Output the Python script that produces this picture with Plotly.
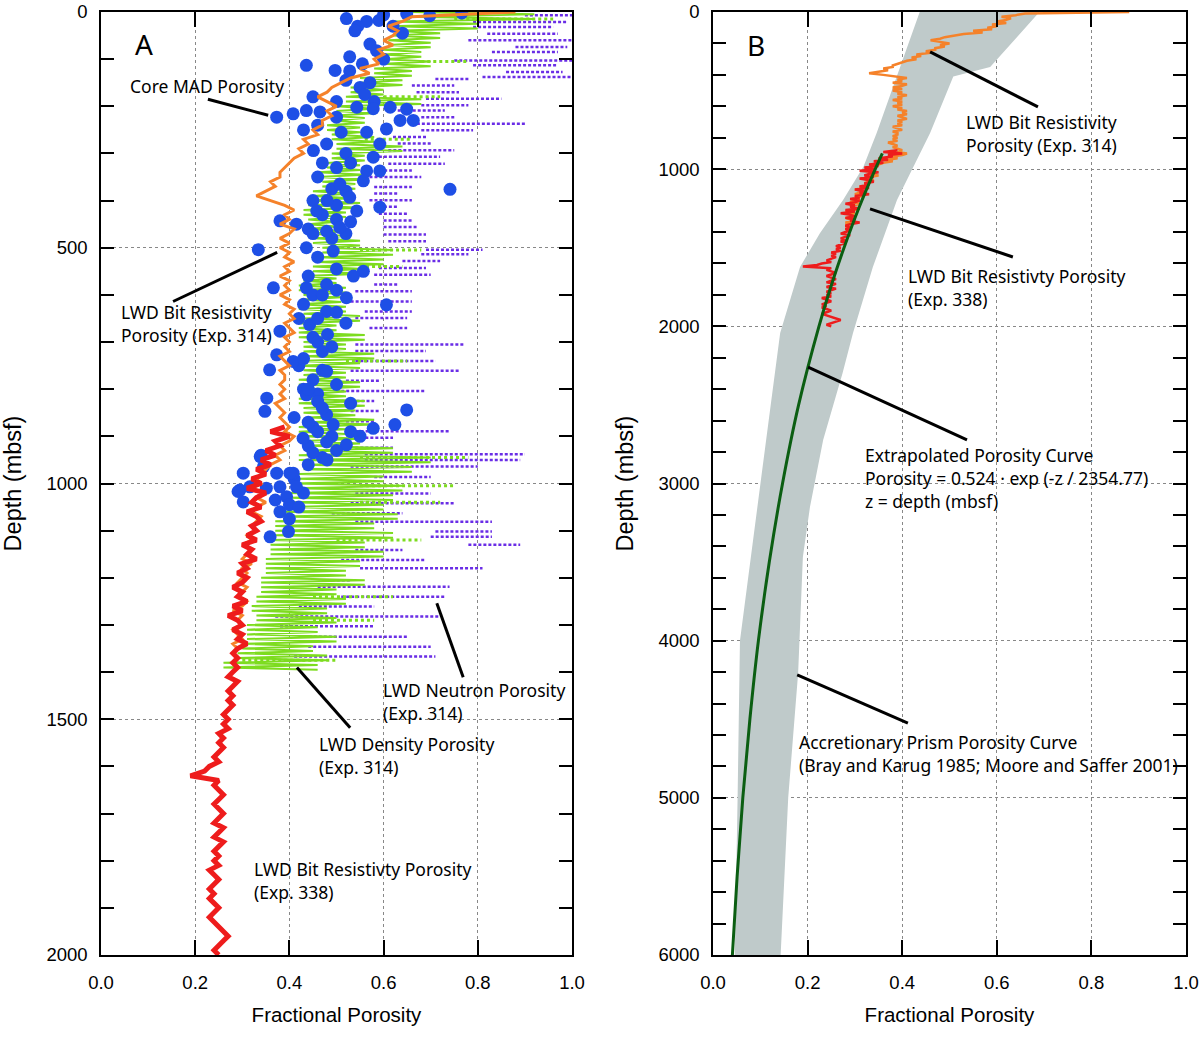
import plotly.graph_objects as go

# ---------------- data ----------------
# LWD bit resistivity porosity, Exp. 314 (10 m steps from 0 m)
res314_depth = list(range(0, 1390, 10))
res314_por = [
    0.88, 0.66, 0.64, 0.61, 0.63, 0.62, 0.60, 0.62, 0.59, 0.60,
    0.58, 0.59, 0.55, 0.57, 0.53, 0.51, 0.49, 0.48, 0.46, 0.48,
    0.50, 0.48, 0.49, 0.47, 0.47, 0.45, 0.46, 0.43, 0.44, 0.42,
    0.43, 0.41, 0.40, 0.39, 0.38, 0.38, 0.36, 0.37, 0.35, 0.33,
    0.36, 0.39, 0.41, 0.39, 0.40, 0.38, 0.41, 0.40, 0.38, 0.40,
    0.38, 0.40, 0.39, 0.41, 0.39, 0.40, 0.38, 0.40, 0.39, 0.40,
    0.38, 0.40, 0.39, 0.41, 0.40, 0.41, 0.39, 0.40, 0.41, 0.39,
    0.40, 0.39, 0.40, 0.38, 0.39, 0.40, 0.38, 0.39, 0.39, 0.38,
    0.39, 0.38, 0.39, 0.37, 0.38, 0.39, 0.38, 0.39, 0.40, 0.39,
    0.41, 0.40, 0.38, 0.39, 0.37, 0.38, 0.36, 0.35, 0.34, 0.33,
    0.34, 0.32, 0.34, 0.33, 0.35, 0.33, 0.32, 0.34, 0.33, 0.32,
    0.33, 0.31, 0.32, 0.30, 0.32, 0.31, 0.30, 0.32, 0.30, 0.31,
    0.30, 0.29, 0.31, 0.30, 0.29, 0.31, 0.30, 0.28, 0.30, 0.29,
    0.30, 0.28, 0.29, 0.30, 0.28, 0.29, 0.28, 0.29, 0.28,
]

# LWD bit resistivity porosity, Exp. 338 (10 m steps from 880 m)
res338_depth = list(range(880, 2010, 10))
res338_por = [
    0.39, 0.36, 0.40, 0.37, 0.38, 0.35, 0.37, 0.34, 0.36, 0.33,
    0.35, 0.32, 0.34, 0.31, 0.35, 0.33, 0.32, 0.34, 0.31, 0.33,
    0.34, 0.32, 0.33, 0.31, 0.33, 0.30, 0.32, 0.31, 0.33, 0.30,
    0.31, 0.29, 0.31, 0.30, 0.28, 0.30, 0.29, 0.31, 0.28, 0.30,
    0.27, 0.29, 0.30, 0.28, 0.30, 0.29, 0.31, 0.29, 0.28, 0.29,
    0.28, 0.29, 0.28, 0.27, 0.29, 0.28, 0.27, 0.28, 0.27, 0.28,
    0.27, 0.26, 0.27, 0.26, 0.27, 0.25, 0.26, 0.25, 0.26, 0.25,
    0.24, 0.25, 0.23, 0.22, 0.19, 0.25, 0.24, 0.25, 0.26, 0.25,
    0.24, 0.25, 0.26, 0.25, 0.24, 0.26, 0.25, 0.24, 0.26, 0.25,
    0.24, 0.25, 0.24, 0.25, 0.23, 0.24, 0.25, 0.24, 0.23, 0.24,
    0.23, 0.24, 0.25, 0.24, 0.23, 0.24, 0.25, 0.26, 0.27, 0.26,
    0.25, 0.24, 0.25,
]

# LWD density porosity, Exp. 314: low / high swing every 20 m
dens_depth = list(range(0, 1400, 20))
dens_lo = [
    0.66, 0.62, 0.62, 0.61, 0.60, 0.60, 0.58, 0.55, 0.53, 0.52,
    0.50, 0.49, 0.48, 0.49, 0.50, 0.49, 0.48, 0.46, 0.47, 0.45,
    0.44, 0.43, 0.44, 0.44, 0.45, 0.47, 0.46, 0.45, 0.43, 0.42,
    0.43, 0.42, 0.43, 0.42, 0.42, 0.43, 0.43, 0.42, 0.43, 0.42,
    0.44, 0.42, 0.43, 0.44, 0.42, 0.43, 0.44, 0.42, 0.43, 0.42,
    0.41, 0.40, 0.40, 0.38, 0.37, 0.37, 0.36, 0.36, 0.35, 0.35,
    0.34, 0.34, 0.33, 0.32, 0.33, 0.31, 0.31, 0.30, 0.29, 0.26,
]
dens_hi = [
    0.92, 0.80, 0.72, 0.70, 0.68, 0.70, 0.66, 0.64, 0.60, 0.68,
    0.58, 0.56, 0.55, 0.58, 0.64, 0.56, 0.55, 0.56, 0.54, 0.53,
    0.55, 0.52, 0.50, 0.52, 0.55, 0.62, 0.60, 0.56, 0.50, 0.52,
    0.51, 0.52, 0.55, 0.50, 0.56, 0.52, 0.58, 0.55, 0.52, 0.55,
    0.52, 0.56, 0.54, 0.58, 0.52, 0.55, 0.62, 0.70, 0.66, 0.60,
    0.64, 0.62, 0.60, 0.63, 0.58, 0.62, 0.56, 0.60, 0.55, 0.52,
    0.56, 0.50, 0.52, 0.48, 0.50, 0.46, 0.50, 0.45, 0.48, 0.46,
]
# sparse density samples streaking to the right
dens_streak_depth = [15, 105, 180, 270, 505, 540, 740, 945, 1005, 1040, 1120, 1240, 1290, 1375]
dens_streak_from = [0.75, 0.68, 0.60, 0.56, 0.55, 0.55, 0.52, 0.55, 0.55, 0.55, 0.50, 0.45, 0.45, 0.30]
dens_streak_to = [0.96, 0.78, 0.72, 0.66, 0.68, 0.64, 0.65, 0.78, 0.75, 0.72, 0.68, 0.62, 0.58, 0.50]

# LWD neutron porosity, Exp. 314: dotted sample streaks
neut_depth = [
    7, 21, 32, 46, 60, 74, 85, 103, 113, 127, 138, 142, 156, 170, 184, 198,
    209, 223, 237, 251, 265, 279, 293, 307, 322, 336, 350, 371, 385, 399,
    413, 428, 442, 456, 472, 486, 504, 514, 528, 543, 557, 578, 592, 614,
    635, 649, 670, 705, 719, 740, 761, 782, 804, 825, 846, 868, 889, 903,
    924, 938, 950, 964, 986, 1021, 1042, 1063, 1081, 1102, 1113, 1130, 1141,
    1162, 1180, 1205, 1219, 1240, 1261, 1282, 1303, 1325, 1346, 1367,
]
neut_from = [
    0.90, 0.79, 0.79, 0.82, 0.78, 0.88, 0.83, 0.75, 0.79, 0.86, 0.81, 0.71, 0.66, 0.67, 0.69, 0.68,
    0.63, 0.68, 0.66, 0.68, 0.62, 0.63, 0.61, 0.59, 0.61, 0.58, 0.57, 0.58, 0.58, 0.57,
    0.59, 0.59, 0.60, 0.60, 0.60, 0.61, 0.69, 0.68, 0.64, 0.59, 0.58, 0.58, 0.54, 0.53,
    0.56, 0.54, 0.57, 0.54, 0.54, 0.54, 0.53, 0.52, 0.51, 0.50, 0.53, 0.52, 0.53, 0.54,
    0.54, 0.56, 0.56, 0.53, 0.58, 0.54, 0.53, 0.49, 0.54, 0.71, 0.70, 0.78, 0.54,
    0.51, 0.55, 0.49, 0.46, 0.51, 0.42, 0.37, 0.38, 0.42, 0.44, 0.41,
]
neut_to = [
    1.00, 0.99, 0.96, 0.97, 1.00, 0.99, 0.97, 1.00, 0.97, 0.98, 1.00, 0.78, 0.75, 0.76, 0.85, 0.78,
    0.73, 0.75, 0.90, 0.79, 0.69, 0.70, 0.75, 0.72, 0.73, 0.66, 0.68, 0.66, 0.63, 0.66,
    0.63, 0.65, 0.66, 0.67, 0.69, 0.69, 0.81, 0.78, 0.72, 0.69, 0.70, 0.63, 0.66, 0.66,
    0.66, 0.65, 0.65, 0.77, 0.69, 0.71, 0.76, 0.59, 0.69, 0.58, 0.59, 0.58, 0.74, 0.62,
    0.62, 0.90, 0.89, 0.80, 0.70, 0.70, 0.75, 0.64, 0.83, 0.83, 0.83, 0.89, 0.64,
    0.69, 0.81, 0.53, 0.74, 0.73, 0.58, 0.72, 0.58, 0.65, 0.70, 0.71,
]

# Core MAD porosity
core_por = [
    0.766, 0.698, 0.649, 0.600, 0.590, 0.564, 0.521, 0.545, 0.539, 0.620, 0.640, 0.571, 0.585,
    0.528, 0.555, 0.600, 0.436, 0.497, 0.528, 0.571, 0.550, 0.520,
    0.450, 0.500, 0.560, 0.580,
    0.373, 0.408, 0.436, 0.465, 0.500, 0.543, 0.578, 0.614, 0.649, 0.635, 0.663, 0.606,
    0.564, 0.510, 0.460, 0.430, 0.592, 0.479, 0.451, 0.520,
    0.470, 0.500, 0.530, 0.460, 0.490, 0.520, 0.450, 0.500, 0.470, 0.530, 0.440, 0.490, 0.520,
    0.578, 0.564, 0.592, 0.557, 0.507, 0.741, 0.528, 0.480, 0.543, 0.592, 0.458, 0.500,
    0.380, 0.415, 0.507, 0.479, 0.450,
    0.334, 0.436, 0.493, 0.460, 0.557, 0.536, 0.500, 0.366, 0.436, 0.479, 0.521, 0.606,
    0.479, 0.500, 0.380, 0.443, 0.481, 0.420, 0.450,
    0.440, 0.470, 0.500, 0.430, 0.460, 0.520, 0.450, 0.490, 0.420, 0.470, 0.500, 0.430,
    0.460, 0.530, 0.410, 0.450, 0.490, 0.440, 0.470, 0.410, 0.430, 0.380, 0.400,
    0.373, 0.408, 0.430, 0.358, 0.479, 0.450, 0.352, 0.436, 0.460, 0.649, 0.348, 0.479,
    0.624, 0.493, 0.578, 0.530, 0.550, 0.429, 0.521, 0.479, 0.500, 0.340, 0.338, 0.450,
    0.460, 0.470, 0.440, 0.470, 0.440, 0.460, 0.480, 0.440,
    0.345, 0.373, 0.408, 0.302, 0.401, 0.295, 0.316, 0.351, 0.380, 0.415, 0.394, 0.302,
    0.370, 0.400, 0.420, 0.291, 0.359, 0.398,
]
core_depth = [
    2, 8, 4, 6, 18, 20, 14, 30, 40, 30, 45, 68, 82,
    95, 110, 100, 113, 124, 125, 150, 160, 145,
    180, 190, 175, 190,
    223, 216, 209, 212, 223, 202, 205, 202, 206, 230, 230, 248,
    255, 255, 240, 250, 280, 280, 294, 300,
    320, 330, 320, 350, 375, 380, 400, 410, 430, 445, 460, 480, 470,
    308, 337, 337, 358, 365, 376, 393, 400, 422, 414, 422, 440,
    443, 450, 457, 465, 470,
    504, 500, 507, 520, 550, 560, 545, 585, 585, 578, 606, 621,
    635, 637, 677, 663, 684, 650, 600,
    560, 600, 590, 620, 650, 660, 690, 710, 750, 760, 790, 800,
    810, 830, 860, 880, 900, 920, 945, 990, 1020, 1060, 1075,
    727, 741, 735, 759, 762, 780, 819, 812, 826, 844, 847, 854,
    875, 875, 883, 890, 900, 904, 918, 912, 930, 940, 943, 935,
    700, 720, 800, 840, 870, 890, 950, 960,
    964, 978, 978, 978, 978, 1014, 1007, 1010, 1007, 1007, 1028, 1039,
    1035, 1045, 1050, 1017, 1113, 1102,
]

# Extrapolated porosity curve
extrap_depth = [900, 1000, 1250, 1500, 1750, 2000, 2500, 3000, 3500, 4000, 4500, 5000, 5500, 6000]
extrap_por = [0.358, 0.343, 0.308, 0.277, 0.249, 0.224, 0.181, 0.147, 0.119, 0.096, 0.078, 0.063, 0.051, 0.041]

# Accretionary prism porosity envelope (grey band)
band_left_depth = [0, 350, 770, 985, 1196, 1407, 1623, 1833, 2043, 2500, 3000, 3500, 4000, 5000, 6000]
band_left_por = [0.437, 0.395, 0.346, 0.318, 0.275, 0.226, 0.184, 0.163, 0.142, 0.122, 0.100, 0.079, 0.057, 0.052, 0.046]
band_right_depth = [0, 350, 410, 770, 1196, 1623, 2043, 2297, 2721, 3150, 3468, 4206, 5000, 6000]
band_right_por = [0.690, 0.586, 0.508, 0.459, 0.389, 0.338, 0.296, 0.274, 0.233, 0.205, 0.190, 0.180, 0.159, 0.143]

# ---------------- colours / fonts ----------------
ORANGE = "#f5822a"
RED = "#ee1c1c"
GREEN = "#7ddc1f"
PURPLE = "#6a2de6"
BLUE = "#1e4fe6"
BAND = "#bfcaca"
DKGREEN = "#0b5e12"
TXT = dict(family="Noto Sans, Open Sans, sans-serif", size=17.5, color="black")
TICK = dict(family="Liberation Sans, Arial, sans-serif", size=18.5, color="black")
XTITLE = dict(family="Liberation Sans, Arial, sans-serif", size=20.5, color="black")
YTITLE = dict(family="Liberation Sans, Arial, sans-serif", size=23.5, color="black")

W, H = 1200, 1041


def segments(depths, starts, ends):
    xs, ys = [], []
    for d, a, b in zip(depths, starts, ends):
        xs += [a, b, None]
        ys += [d, d, None]
    return xs, ys


def zigzag(depths, lo, hi):
    xs, ys = [], []
    for d, a, b in zip(depths, lo, hi):
        xs += [a, b, a, b]
        ys += [d, d + 5, d + 10, d + 15]
    return xs, ys


fig = go.Figure()

# ---- panel A ----
nx, ny = segments(neut_depth, neut_from, neut_to)
fig.add_trace(go.Scatter(x=nx, y=ny, mode="lines", line=dict(color=PURPLE, width=2.5, dash="3px,2px"),
                         name="LWD Neutron Porosity", xaxis="x", yaxis="y"))
gx, gy = zigzag(dens_depth, dens_lo, dens_hi)
fig.add_trace(go.Scatter(x=gx, y=gy, mode="lines", line=dict(color=GREEN, width=2),
                         name="LWD Density Porosity", xaxis="x", yaxis="y"))
sx, sy = segments(dens_streak_depth, dens_streak_from, dens_streak_to)
fig.add_trace(go.Scatter(x=sx, y=sy, mode="lines", line=dict(color=GREEN, width=3, dash="dot"),
                         showlegend=False, xaxis="x", yaxis="y"))
fig.add_trace(go.Scatter(x=core_por, y=core_depth, mode="markers",
                         marker=dict(color=BLUE, size=13, line=dict(width=0)),
                         name="Core MAD Porosity", xaxis="x", yaxis="y"))
fig.add_trace(go.Scatter(x=res314_por, y=res314_depth, mode="lines", line=dict(color=ORANGE, width=3),
                         name="LWD Bit Resistivity Porosity (Exp. 314)", xaxis="x", yaxis="y"))
fig.add_trace(go.Scatter(x=res338_por, y=res338_depth, mode="lines", line=dict(color=RED, width=5),
                         name="LWD Bit Resistivity Porosity (Exp. 338)", xaxis="x", yaxis="y"))

# ---- panel B ----
band_x = band_left_por + band_right_por[::-1]
band_y = band_left_depth + band_right_depth[::-1]
fig.add_trace(go.Scatter(x=band_x, y=band_y, mode="lines", fill="toself", fillcolor=BAND,
                         line=dict(width=0, color=BAND), name="Accretionary Prism Porosity Curve",
                         xaxis="x2", yaxis="y2"))
fig.add_trace(go.Scatter(x=res314_por, y=res314_depth, mode="lines", line=dict(color=ORANGE, width=2.5),
                         showlegend=False, xaxis="x2", yaxis="y2"))
fig.add_trace(go.Scatter(x=res338_por, y=res338_depth, mode="lines", line=dict(color=RED, width=2.5),
                         showlegend=False, xaxis="x2", yaxis="y2"))
fig.add_trace(go.Scatter(x=extrap_por, y=extrap_depth, mode="lines", line=dict(color=DKGREEN, width=3, shape="spline"),
                         name="Extrapolated Porosity Curve", xaxis="x2", yaxis="y2"))


# ---- axes ----
def px_x(a, b):
    return [a / W, b / W]


Y_DOMAIN = [1 - 955 / H, 1 - 12 / H]


def xaxis(domain, anchor):
    return dict(domain=domain, anchor=anchor, range=[0, 1], dtick=0.2, tickformat=".1f", ticks="inside",
                ticklen=15, tickwidth=1.5, tickcolor="black", showline=True, linecolor="black", linewidth=1.5,
                mirror="ticks", showgrid=True, gridcolor="#888888", griddash="dot", gridwidth=1,
                zeroline=False, tickfont=TICK, ticklabelstandoff=10, automargin=False,
                ticklabeloverflow="allow",
                title=dict(text="Fractional Porosity", font=XTITLE, standoff=16))


def yaxis(anchor, rng, dtick, minor):
    return dict(anchor=anchor, domain=Y_DOMAIN, range=rng, dtick=dtick, ticks="inside", ticklen=13,
                tickwidth=1.5, tickcolor="black", showline=True, linecolor="black", linewidth=1.5,
                mirror="ticks", showgrid=True, gridcolor="#888888", griddash="dot", gridwidth=1,
                zeroline=False, tickfont=TICK, ticklabelstandoff=8, automargin=False,
                ticklabeloverflow="allow",
                minor=dict(dtick=minor, ticks="inside", ticklen=13, tickwidth=1.5, tickcolor="black", showgrid=False),
                title=dict(text="Depth (mbsf)", font=YTITLE, standoff=18))


fig.update_layout(
    width=W, height=H,
    margin=dict(l=0, r=0, t=0, b=0),
    paper_bgcolor="white", plot_bgcolor="white",
    showlegend=False,
    xaxis=xaxis(px_x(101, 572), "y"),
    yaxis=yaxis("x", [2000, 0], 500, 100),
    xaxis2=xaxis(px_x(713, 1186), "y2"),
    yaxis2=yaxis("x2", [6000, 0], 1000, 200),
)

# ---- annotations and leader lines ----
notes = [
    ("x", "y", 0.068, 68, "A", 28),
    ("x", "y", 0.057, 157, "Core MAD Porosity", 17.5),
    ("x", "y", 0.038, 661, "LWD Bit Resistivity<br>Porosity (Exp. 314)", 17.5),
    ("x", "y", 0.594, 1462, "LWD Neutron Porosity<br>(Exp. 314)", 17.5),
    ("x", "y", 0.459, 1577, "LWD Density Porosity<br>(Exp. 314)", 17.5),
    ("x", "y", 0.321, 1843, "LWD Bit Resistivty Porosity<br>(Exp. 338)", 17.5),
    ("x2", "y2", 0.068, 210, "B", 28),
    ("x2", "y2", 0.531, 770, "LWD Bit Resistivity<br>Porosity (Exp. 314)", 17.5),
    ("x2", "y2", 0.408, 1756, "LWD Bit Resistivty Porosity<br>(Exp. 338)", 17.5),
    ("x2", "y2", 0.317, 2965, "Extrapolated Porosity Curve<br>Porosity = 0.524 · exp (-z / 2354.77)<br>z = depth (mbsf)", 17.5),
    ("x2", "y2", 0.178, 4715, "Accretionary Prism Porosity Curve<br>(Bray and Karug 1985; Moore and Saffer 2001)", 17.5),
]
for xr, yr, x, y, text, size in notes:
    fig.add_annotation(xref=xr, yref=yr, x=x, y=y, text=text, showarrow=False, align="left",
                       xanchor="left", yanchor="middle", font=TXT | dict(size=size))

leaders = [
    ("x", "y", 0.227, 185, 0.355, 219),
    ("x", "y", 0.153, 614, 0.374, 510),
    ("x", "y", 0.713, 1254, 0.769, 1411),
    ("x", "y", 0.416, 1390, 0.529, 1518),
    ("x2", "y2", 0.459, 254, 0.687, 604),
    ("x2", "y2", 0.332, 1253, 0.634, 1559),
    ("x2", "y2", 0.201, 2259, 0.537, 2723),
    ("x2", "y2", 0.178, 4218, 0.412, 4524),
]
for xr, yr, x0, y0, x1, y1 in leaders:
    fig.add_shape(type="line", xref=xr, yref=yr, x0=x0, y0=y0, x1=x1, y1=y1,
                  line=dict(color="black", width=3))

# drop the default 8 px page margin so the figure sits at the window's corner
fig.write_html("out.html", config={"displayModeBar": False},
               post_script="document.body.style.margin = '0';")
